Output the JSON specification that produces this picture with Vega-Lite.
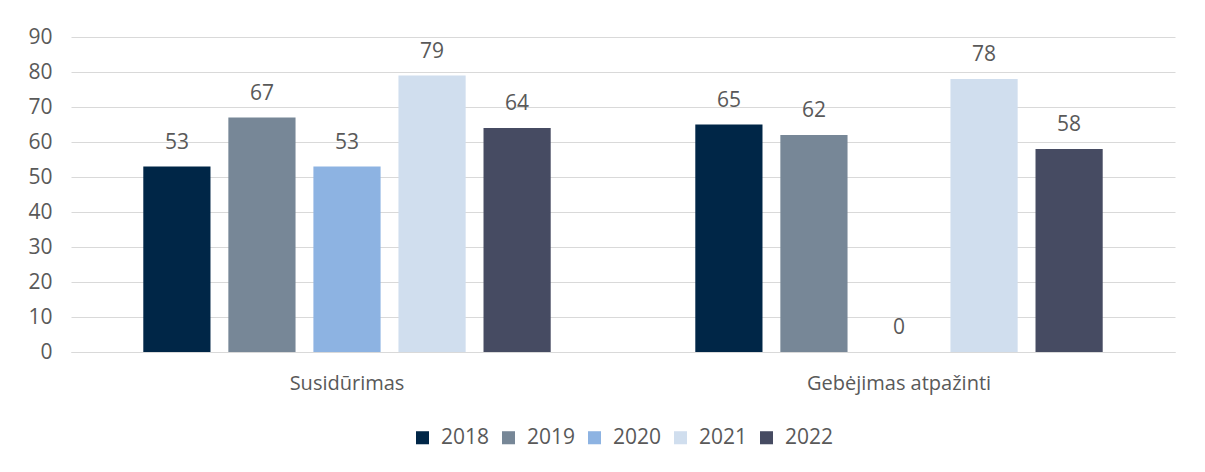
{
  "$schema": "https://vega.github.io/schema/vega-lite/v6.json",
  "autosize": "none",
  "width": 1104,
  "height": 315,
  "padding": {"left": 71, "top": 37, "right": 30, "bottom": 120},
  "background": "white",
  "data": {"values": [
    {"cat": "Susidūrimas", "year": "2018", "v": 53},
    {"cat": "Susidūrimas", "year": "2019", "v": 67},
    {"cat": "Susidūrimas", "year": "2020", "v": 53},
    {"cat": "Susidūrimas", "year": "2021", "v": 79},
    {"cat": "Susidūrimas", "year": "2022", "v": 64},
    {"cat": "Gebėjimas atpažinti", "year": "2018", "v": 65},
    {"cat": "Gebėjimas atpažinti", "year": "2019", "v": 62},
    {"cat": "Gebėjimas atpažinti", "year": "2020", "v": 0},
    {"cat": "Gebėjimas atpažinti", "year": "2021", "v": 78},
    {"cat": "Gebėjimas atpažinti", "year": "2022", "v": 58}
  ]},
  "encoding": {
    "x": {"field": "cat", "type": "nominal", "sort": null, "title": null,
      "scale": {"paddingInner": 0, "paddingOuter": 0},
      "axis": {"labelAngle": 0, "ticks": false, "domainColor": "#D9D9D9", "labelPadding": 21, "labelFontSize": 20, "labelLimit": 0, "labelColor": "#595959", "labelFont": "Open Sans"}},
    "xOffset": {"field": "year", "type": "nominal", "scale": {"paddingInner": 0.21, "paddingOuter": 0.85}},
    "y": {"field": "v", "type": "quantitative", "title": null,
      "scale": {"domain": [0, 90]},
      "axis": {"values": [0,10,20,30,40,50,60,70,80,90], "domain": false, "ticks": false, "gridColor": "#D9D9D9", "labelPadding": 19, "labelFontSize": 21, "labelColor": "#595959", "labelFont": "Open Sans"}}
  },
  "layer": [
    {"mark": {"type": "bar"},
     "encoding": {"color": {"field": "year", "type": "nominal", "title": null,
       "scale": {"domain": ["2018","2019","2020","2021","2022"], "range": ["#002647", "#778797", "#8DB3E2", "#D0DEEE", "#464B62"]},
       "legend": {"orient": "bottom", "direction": "horizontal", "symbolType": "square", "symbolSize": 170, "symbolStrokeWidth": 0, "labelFontSize": 21, "labelColor": "#595959", "labelFont": "Open Sans", "columnPadding": 8, "labelOffset": 8, "offset": 34}}}},
    {"mark": {"type": "text", "dy": -24, "fontSize": 21, "color": "#595959", "font": "Open Sans"},
     "encoding": {"text": {"field": "v", "type": "quantitative"}}}
  ],
  "config": {
    "view": {"stroke": null},
    "legend": {"layout": {"bottom": {"anchor": "middle"}}}
  }
}
